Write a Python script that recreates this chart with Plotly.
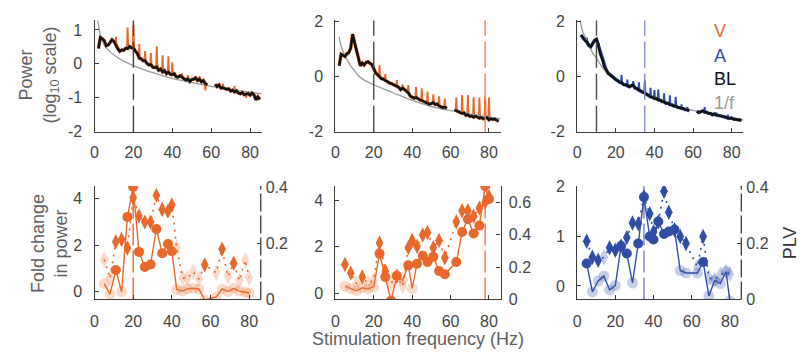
import plotly.graph_objects as go

W, H = 806, 358
ORANGE = "#E9682B"
ORANGE_LIGHT = "rgba(240,140,90,0.32)"
BLUE = "#2E4DA4"
BLUE_LIGHT = "rgba(70,95,180,0.30)"
GRAY = "#9a9a9a"
AX = "#3a3a3a"
TXT = "#444444"
LBL = "#5e5e5e"
FONT = "Liberation Sans, Arial, Helvetica, sans-serif"

# ---------------- spectra (log10 power), 1 Hz grid, line-noise band removed ----------------
SPEC_F = list(range(2, 86))
BL_V20 = [0.45, 0.78, 0.74, 0.68, 0.53, 0.55, 0.63, 0.71, 0.66, 0.55,
          0.43, 0.37, 0.41, 0.40, 0.46, 0.45, 0.51, 0.47, 0.46, 0.38,
          0.31, 0.17, 0.15, 0.09, 0.09, 0.01, -0.03, -0.02, -0.10, -0.11,
          -0.09, -0.19, -0.15, -0.24, -0.20, -0.29, -0.24, -0.31, -0.32, -0.29,
          -0.38, -0.39, -0.35, -0.39, -0.43, -0.48, -0.44, -0.52, -0.46, -0.45,
          -0.41, -0.49, -0.45, -0.53, -0.49, -0.58, -0.62,
          None, None, None,
          -0.60, -0.67, -0.62, -0.71, -0.70, -0.72, -0.75, -0.73, -0.80, -0.77,
          -0.83, -0.79, -0.86, -0.88, -0.84, -0.91, -0.90, -0.87, -0.92, -0.86,
          -0.91, -1.06, -0.97, -1.05]
BL_V78 = [0.40, 0.82, 0.78, 0.74, 0.84, 0.88, 1.05, 1.55, 1.25, 1.00,
          0.72, 0.40, 0.50, 0.43, 0.52, 0.55, 0.49, 0.45, 0.30, 0.14,
          0.08, 0.00, -0.07, -0.08, -0.14, -0.16, -0.22, -0.24, -0.28, -0.31,
          -0.36, -0.38, -0.47, -0.41, -0.46, -0.53, -0.58, -0.70, -0.74, -0.78,
          -0.75, -0.80, -0.84, -0.86, -0.90, -0.92, -0.95, -1.00, -0.97, -0.94,
          -1.01, -0.99, -1.06, -1.08, -1.12, -1.10, -1.15,
          None, None, None,
          -1.20, -1.24, -1.27, -1.30, -1.33, -1.31, -1.40, -1.38, -1.44, -1.42,
          -1.47, -1.43, -1.46, -1.50, -1.48, -1.53, -1.50, -1.48, -1.56, -1.52,
          -1.55, -1.53, -1.58, -1.62]
BL_A35 = [1.52, 1.41, 1.33, 1.27, 1.14, 1.09, 1.21, 1.32, 1.36, 1.14,
          0.82, 0.64, 0.38, 0.25, 0.13, 0.07, 0.01, -0.04, -0.11, -0.13,
          -0.20, -0.21, -0.28, -0.29, -0.34, -0.36, -0.32, -0.30, -0.41, -0.43,
          -0.49, -0.51, -0.56, -0.59, -0.64, -0.67, -0.73, -0.74, -0.79, -0.79,
          -0.84, -0.85, -0.90, -0.91, -0.96, -0.96, -1.01, -1.02, -1.06, -1.06,
          -1.11, -1.12, -1.15, -1.15, -1.19, -1.20, -1.24,
          None, None, None,
          -1.25, -1.30, -1.27, -1.24, -1.29, -1.29, -1.33, -1.33, -1.38, -1.35,
          -1.39, -1.39, -1.42, -1.43, -1.46, -1.47, -1.50, -1.51, -1.50, -1.54,
          -1.54, -1.57, -1.56, -1.59]

# stimulation-condition spectral peaks (frequency, peak log10 power)
SPK_V20_F = [11, 17, 20, 23, 26, 29, 32, 35, 38, 40, 45, 48, 54, 57, 66, 72, 78]
SPK_V20_P = [0.80, 1.07, 1.14, 0.58, 0.38, 0.32, 0.52, 0.25, 0.22, 0.05,
             -0.28, -0.33, -0.36, -0.78, -0.58, -0.65, -1.00]
SPK_V78_F = [23, 26, 32, 35, 38, 42, 45, 48, 51, 54, 57, 63, 66, 69, 72, 75, 78, 80]
SPK_V78_P = [0.42, 0.10, -0.12, -0.28, -0.30, -0.37, -0.42, -0.54, -0.64, -0.71,
             -0.79, -0.75, -0.66, -0.66, -0.74, -0.75, -0.70, -0.75]
SPK_A35_F = [5, 11, 23, 26, 29, 32, 35, 38, 40, 42, 45, 48, 51, 54, 57, 66, 72, 78]
SPK_A35_P = [1.42, 1.24, 0.06, -0.10, -0.16, -0.20, -0.14, -0.40, -0.48, -0.46, -0.60,
             -0.67, -0.73, -1.00, -1.10, -1.10, -1.30, -1.38]

# 1/f fits
ONEF_F = [1.5, 2, 3, 4, 5, 6, 8, 10, 12, 15, 20, 25, 30, 40, 50, 60, 70, 80, 86]
ONEF_V20 = [1.32, 1.15, 0.85, 0.68, 0.56, 0.48, 0.36, 0.26, 0.18, 0.08, -0.05,
            -0.16, -0.26, -0.43, -0.55, -0.66, -0.75, -0.83, -0.88]
ONEF_V78 = [None, 1.45, 1.12, 0.93, 0.78, 0.64, 0.40, 0.22, 0.04, -0.12, -0.29,
            -0.44, -0.58, -0.86, -1.08, -1.23, -1.36, -1.47, -1.53]
ONEF_A35 = [2.15, 1.88, 1.62, 1.48, 1.32, 1.16, 0.87, 0.68, 0.45, 0.18, -0.08,
            -0.28, -0.42, -0.76, -1.04, -1.22, -1.36, -1.50, -1.57]

# ---------------- fold change / PLV per stimulation frequency ----------------
STIM_F = [5, 8, 11, 14, 17, 20, 23, 26, 29, 32, 35, 38, 40, 42.5, 45.5, 48, 51, 54,
          57, 63, 66, 69, 72, 75, 78, 80]
FC_V20 = [0.35, -0.10, 0.93, 0.00, 3.21, 4.49, 1.71, 1.06, 1.17, 2.69, 1.65, 2.05, 1.74,
          0.10, 0.03, 0.12, 0.15, 0.12, -0.35, -0.22, 0.12, 0.01, 0.15, 0.03, -0.02, -0.05]
FC_V20_SIG = [0, 0, 1, 0, 1, 1, 1, 1, 1, 1, 1, 1, 1, 0, 0, 0, 0, 0, 0, 0, 0, 0, 0, 0, 0, 0]
PLV_V20 = [0.142, 0.075, 0.205, 0.213, 0.183, 0.362, 0.297, 0.275, 0.275, 0.370, 0.320,
           0.314, 0.336, 0.185, 0.078, 0.075, 0.098, 0.073, 0.123, 0.095, 0.179, 0.082,
           0.129, 0.067, 0.140, 0.078]
PLV_V20_SIG = [0, 0, 1, 1, 1, 1, 1, 1, 1, 1, 1, 1, 1, 0, 0, 0, 0, 0, 1, 0, 1, 0, 1, 0, 0, 0]

FC_V78 = [0.32, 0.22, 0.12, 0.25, 0.20, 0.30, 1.71, 0.71, -0.30, 0.76, 0.57, 1.21, 0.22,
          1.28, 1.62, 1.35, 1.58, 0.97, 0.83, 1.35, 2.64, 3.18, 2.57, 2.91, 4.60, 4.05]
FC_V78_SIG = [0, 0, 0, 0, 0, 0, 1, 1, 1, 1, 0, 1, 0, 1, 1, 1, 1, 1, 1, 1, 1, 1, 1, 1, 1, 1]
PLV_V78 = [0.216, 0.163, 0.100, 0.139, 0.100, 0.120, 0.349, 0.176, 0.100, 0.143, 0.084,
           0.320, 0.364, 0.328, 0.398, 0.414, 0.320, 0.364, 0.258, 0.480, 0.548, 0.548,
           0.514, 0.564, 0.600, 0.634]
PLV_V78_SIG = [1, 1, 0, 1, 0, 0, 1, 1, 0, 1, 0, 1, 1, 1, 1, 1, 1, 1, 1, 1, 1, 1, 1, 1, 1, 1]

FC_A35 = [0.45, -0.12, 0.10, 0.20, -0.08, 0.01, 0.80, 0.65, 0.06, 0.85, 1.78, 0.99, 0.93,
          1.29, 1.04, 1.09, 1.13, 0.31, 0.26, 0.26, 0.48, -0.20, 0.11, 0.05, 0.29, -0.30]
FC_A35_SIG = [1, 0, 0, 0, 0, 0, 1, 1, 0, 1, 1, 1, 1, 1, 1, 1, 1, 0, 0, 0, 1, 0, 0, 0, 0, 0]
PLV_A35 = [0.207, 0.150, 0.139, 0.150, 0.184, 0.175, 0.190, 0.220, 0.272, 0.269, 0.365,
           0.305, 0.240, 0.276, 0.385, 0.310, 0.248, 0.224, 0.199, 0.116, 0.224, 0.077,
           0.070, 0.088, 0.098, 0.090]
PLV_A35_SIG = [1, 1, 1, 0, 1, 1, 1, 1, 1, 1, 1, 1, 1, 1, 1, 1, 1, 1, 1, 0, 1, 0, 0, 0, 0, 0]

# ---------------- layout helpers ----------------
def xd(l, r):
    return [l / W, r / W]


def yd(t, b):
    return [1 - b / H, 1 - t / H]


fig = go.Figure()

TOP_X = [xd(91, 259), xd(333, 499), xd(576, 743)]
BOT_X = [xd(91, 258), xd(333, 499), xd(576, 741)]
TOP_Y = yd(13, 130)
BOT_Y = yd(187, 306)


def axis_common(**kw):
    d = dict(showline=True, linecolor=AX, linewidth=1.2, ticks="inside", ticklen=4,
             tickcolor=AX, tickwidth=1.1, showgrid=False, zeroline=False,
             tickfont=dict(size=16, color=TXT, family=FONT))
    d.update(kw)
    return d


layout_axes = {}
# top panels
top_yr = [[-2, 1.28], [-2, 2.05], [-2, 2.05]]
top_yt = [[-2, -1, 0, 1], [-2, 0, 2], [-2, 0, 2]]
for i in range(3):
    n = "" if i == 0 else str(i + 1)
    layout_axes["xaxis" + n] = axis_common(domain=TOP_X[i], range=[0, 86], anchor="y" + n,
                                           tickvals=[0, 20, 40, 60, 80], ticklabelstandoff=6)
    layout_axes["yaxis" + n] = axis_common(domain=TOP_Y, range=top_yr[i], anchor="x" + n,
                                           tickvals=top_yt[i],
                                           ticktext=[str(v) for v in top_yt[i]],
                                           ticklabelstandoff=8)
# bottom panels
bot_yl = [[-0.33, 4.53], [-0.25, 4.6], [-0.27, 2.0]]
bot_ylt = [[0, 2, 4], [0, 2, 4], [0, 1, 2]]
bot_yr = [[0, 0.403], [0, 0.70], [0, 0.403]]
bot_yrt = [[0, 0.2, 0.4], [0, 0.2, 0.4, 0.6], [0, 0.2, 0.4]]
for i in range(3):
    xn = str(i + 4)
    yl = str(i + 4)
    yr = str(i + 7)
    layout_axes["xaxis" + xn] = axis_common(domain=BOT_X[i], range=[0, 86], anchor="y" + yl,
                                            tickvals=[0, 20, 40, 60, 80], ticklabelstandoff=7)
    layout_axes["yaxis" + yl] = axis_common(domain=BOT_Y, range=bot_yl[i], anchor="x" + xn,
                                            tickvals=bot_ylt[i], ticklabelstandoff=8)
    layout_axes["yaxis" + yr] = axis_common(range=bot_yr[i], anchor="x" + xn,
                                            overlaying="y" + yl, side="right",
                                            showline=(i == 1), tickvals=bot_yrt[i],
                                            ticktext=[("0" if v == 0 else str(v)) for v in bot_yrt[i]],
                                            ticklabelstandoff=4)

# ---------------- top panel traces ----------------
tops = [
    (BL_V20, SPK_V20_F, SPK_V20_P, ONEF_V20, ORANGE),
    (BL_V78, SPK_V78_F, SPK_V78_P, ONEF_V78, ORANGE),
    (BL_A35, SPK_A35_F, SPK_A35_P, ONEF_A35, BLUE),
]
for i, (bl, sf, sp, onef, col) in enumerate(tops):
    xa = "x" if i == 0 else "x" + str(i + 1)
    ya = "y" if i == 0 else "y" + str(i + 1)
    # condition spectrum peaks (drawn from the baseline value at that frequency)
    xs, ys = [], []
    for f, p in zip(sf, sp):
        base = bl[SPEC_F.index(f)]
        xs += [f - 0.3, f, f + 0.3, None]
        ys += [base, p, base, None]
    fig.add_trace(go.Scatter(x=SPEC_F, y=bl, xaxis=xa, yaxis=ya, mode="lines",
                             line=dict(color=col, width=3.4), connectgaps=False,
                             hoverinfo="skip"))
    fig.add_trace(go.Scatter(x=xs, y=ys, xaxis=xa, yaxis=ya, mode="lines",
                             line=dict(color=col, width=1.9), hoverinfo="skip"))
    fig.add_trace(go.Scatter(x=ONEF_F, y=onef, xaxis=xa, yaxis=ya, mode="lines",
                             line=dict(color=GRAY, width=1.3, shape="spline"),
                             connectgaps=False, hoverinfo="skip"))
    fig.add_trace(go.Scatter(x=SPEC_F, y=bl, xaxis=xa, yaxis=ya, mode="lines",
                             line=dict(color="#111111", width=2.6), connectgaps=False,
                             hoverinfo="skip"))

# ---------------- bottom panel traces ----------------
bots = [
    (FC_V20, FC_V20_SIG, PLV_V20, PLV_V20_SIG, ORANGE, ORANGE_LIGHT),
    (FC_V78, FC_V78_SIG, PLV_V78, PLV_V78_SIG, ORANGE, ORANGE_LIGHT),
    (FC_A35, FC_A35_SIG, PLV_A35, PLV_A35_SIG, BLUE, BLUE_LIGHT),
]


def pick(vals, sig, want):
    return ([f for f, s in zip(STIM_F, sig) if s == want],
            [v for v, s in zip(vals, sig) if s == want])


for i, (fc, fcs, plv, plvs, col, lcol) in enumerate(bots):
    xa = "x" + str(i + 4)
    yl = "y" + str(i + 4)
    yr = "y" + str(i + 7)
    # faded (non-significant) markers
    px, py = pick(fc, fcs, 0)
    fig.add_trace(go.Scatter(x=px, y=py, xaxis=xa, yaxis=yl, mode="markers",
                             marker=dict(symbol="circle", size=11, color=lcol, line=dict(width=0)),
                             hoverinfo="skip"))
    px, py = pick(plv, plvs, 0)
    fig.add_trace(go.Scatter(x=px, y=py, xaxis=xa, yaxis=yr, mode="markers",
                             marker=dict(symbol="diamond-tall", size=12, color=lcol, line=dict(width=0)),
                             hoverinfo="skip"))
    # connecting lines
    fig.add_trace(go.Scatter(x=STIM_F, y=fc, xaxis=xa, yaxis=yl, mode="lines",
                             line=dict(color=col, width=1.4), hoverinfo="skip"))
    fig.add_trace(go.Scatter(x=STIM_F, y=plv, xaxis=xa, yaxis=yr, mode="lines",
                             line=dict(color=col, width=1.6, dash="2px,5px"), hoverinfo="skip"))
    # significant markers
    px, py = pick(fc, fcs, 1)
    fig.add_trace(go.Scatter(x=px, y=py, xaxis=xa, yaxis=yl, mode="markers",
                             marker=dict(symbol="circle", size=10, color=col, line=dict(width=0)),
                             hoverinfo="skip"))
    px, py = pick(plv, plvs, 1)
    fig.add_trace(go.Scatter(x=px, y=py, xaxis=xa, yaxis=yr, mode="markers",
                             marker=dict(symbol="diamond-tall", size=11, color=col, line=dict(width=0)),
                             hoverinfo="skip"))

# ---------------- stimulation-frequency markers (dashed) ----------------
STIM_LINES_TOP = [
    ("x", "y", 20, "#4a3b36"),
    ("x2", "y2", 20, "#4a4a4a"),
    ("x2", "y2", 78, "#F0844E"),
    ("x3", "y3", 10, "#4a4a4a"),
    ("x3", "y3", 35, "#7F8FCC"),
]
shapes = []
for xr, yr_, xv, c in STIM_LINES_TOP:
    shapes.append(dict(type="line", xref=xr, yref=yr_ + " domain", x0=xv, x1=xv, y0=0, y1=1,
                       line=dict(color=c, width=1.4, dash="26px,6px"), layer="above"))
STIM_LINES_BOT = [("x4", "y4", 20, ORANGE), ("x5", "y5", 78, "#EE7A43"), ("x6", "y6", 35, "#6F80C8")]
for xr, yr_, xv, c in STIM_LINES_BOT:
    shapes.append(dict(type="line", xref=xr, yref=yr_ + " domain", x0=xv, x1=xv, y0=0, y1=1,
                       line=dict(color=c, width=1.4, dash="22px,5px"), layer="below"))
# dashed right-hand spines of the PLV axes
for xr, yr_ in [("x4", "y4"), ("x6", "y6")]:
    shapes.append(dict(type="line", xref=xr + " domain", yref=yr_ + " domain", x0=1, x1=1,
                       y0=0, y1=1, line=dict(color=AX, width=1.3, dash="18px,4px")))

annotations = [
    dict(text="Power<br>(log<sub>10</sub> scale)", x=35 / W, y=1 - 70 / H, textangle=-90,
         font=dict(size=18, color=LBL)),
    dict(text="Fold change<br>in power", x=45 / W, y=1 - 247 / H, textangle=-90,
         font=dict(size=18, color=LBL)),
    dict(text="PLV", x=790 / W, y=1 - 247 / H, textangle=-90, font=dict(size=18, color="#333333")),
    dict(text="Stimulation frequency (Hz)", x=416 / W, y=1 - 348 / H,
         font=dict(size=18, color=LBL)),
    dict(text="V", x=712 / W, y=1 - 24 / H, xanchor="left", font=dict(size=18, color=ORANGE)),
    dict(text="A", x=712 / W, y=1 - 50 / H, xanchor="left", font=dict(size=18, color=BLUE)),
    dict(text="BL", x=712 / W, y=1 - 75 / H, xanchor="left", font=dict(size=18, color="#111111")),
    dict(text="1/f", x=712 / W, y=1 - 100 / H, xanchor="left", font=dict(size=18, color=GRAY)),
]
for a in annotations:
    a.update(xref="paper", yref="paper", showarrow=False)
    a.setdefault("xanchor", "center")
    a.setdefault("yanchor", "middle")
    a["font"]["family"] = FONT

fig.update_layout(width=W, height=H, margin=dict(l=0, r=0, t=0, b=0),
                  paper_bgcolor="white", plot_bgcolor="white", showlegend=False,
                  font=dict(family=FONT, color=TXT), shapes=shapes, annotations=annotations,
                  **layout_axes)

fig.write_html("out.html")
